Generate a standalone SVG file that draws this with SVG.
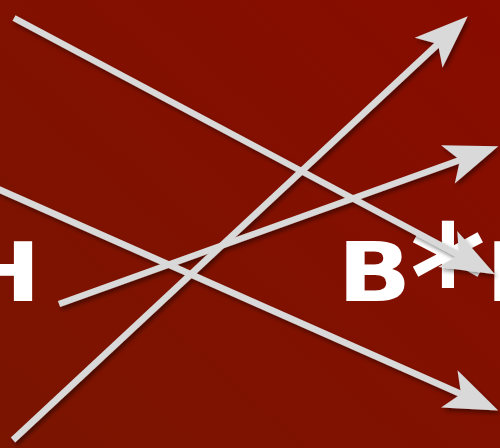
<svg xmlns="http://www.w3.org/2000/svg" width="500" height="448" viewBox="0 0 500 448">
<style>
.lbl{font-family:"DejaVu Sans","Liberation Sans",sans-serif;font-weight:bold;fill:#ffffff;font-size:82px}
.conn{stroke:#d9d9d9;stroke-width:6.5;fill:none}
.head{fill:#d9d9d9}
</style>
<defs>
<linearGradient id="bg" x1="1" y1="0" x2="0" y2="1">
<stop offset="0" stop-color="#880c00"/>
<stop offset="1" stop-color="#7a1500"/>
</linearGradient>
<marker id="ah" markerUnits="userSpaceOnUse" markerWidth="60" markerHeight="50" viewBox="-52 -22 56 44" refX="-38" refY="0" orient="auto">
<path class="head" d="M0,0 L-50,-19 L-38,0 L-50,19 Z"/>
</marker>
<filter id="sh" x="-10%" y="-10%" width="120%" height="120%">
<feDropShadow dx="2" dy="3" stdDeviation="2" flood-color="#000" flood-opacity="0.45"/>
</filter>
</defs>
<rect width="500" height="448" fill="url(#bg)"/>
<g id="node-H-left">
<text class="lbl" transform="translate(-40,300.5) scale(1.18,1)">H</text>
</g>
<g id="node-BstarH">
<text class="lbl" transform="translate(337.4,300.5) scale(1.18,1)">B</text>
<text class="lbl" x="448" y="328" text-anchor="middle" style="font-size:145px">*</text>
<text class="lbl" transform="translate(485.4,300.5) scale(1.18,1)">H</text>
</g>
<g id="connectors" filter="url(#sh)">
<path class="conn" d="M14,18 L459,255" marker-end="url(#ah)"/>
<path class="conn" d="M13,440 L438,44" marker-end="url(#ah)"/>
<path class="conn" d="M59,304 L460,160" marker-end="url(#ah)"/>
<path class="conn" d="M-20,181 L461,394" marker-end="url(#ah)"/>
</g>
</svg>
